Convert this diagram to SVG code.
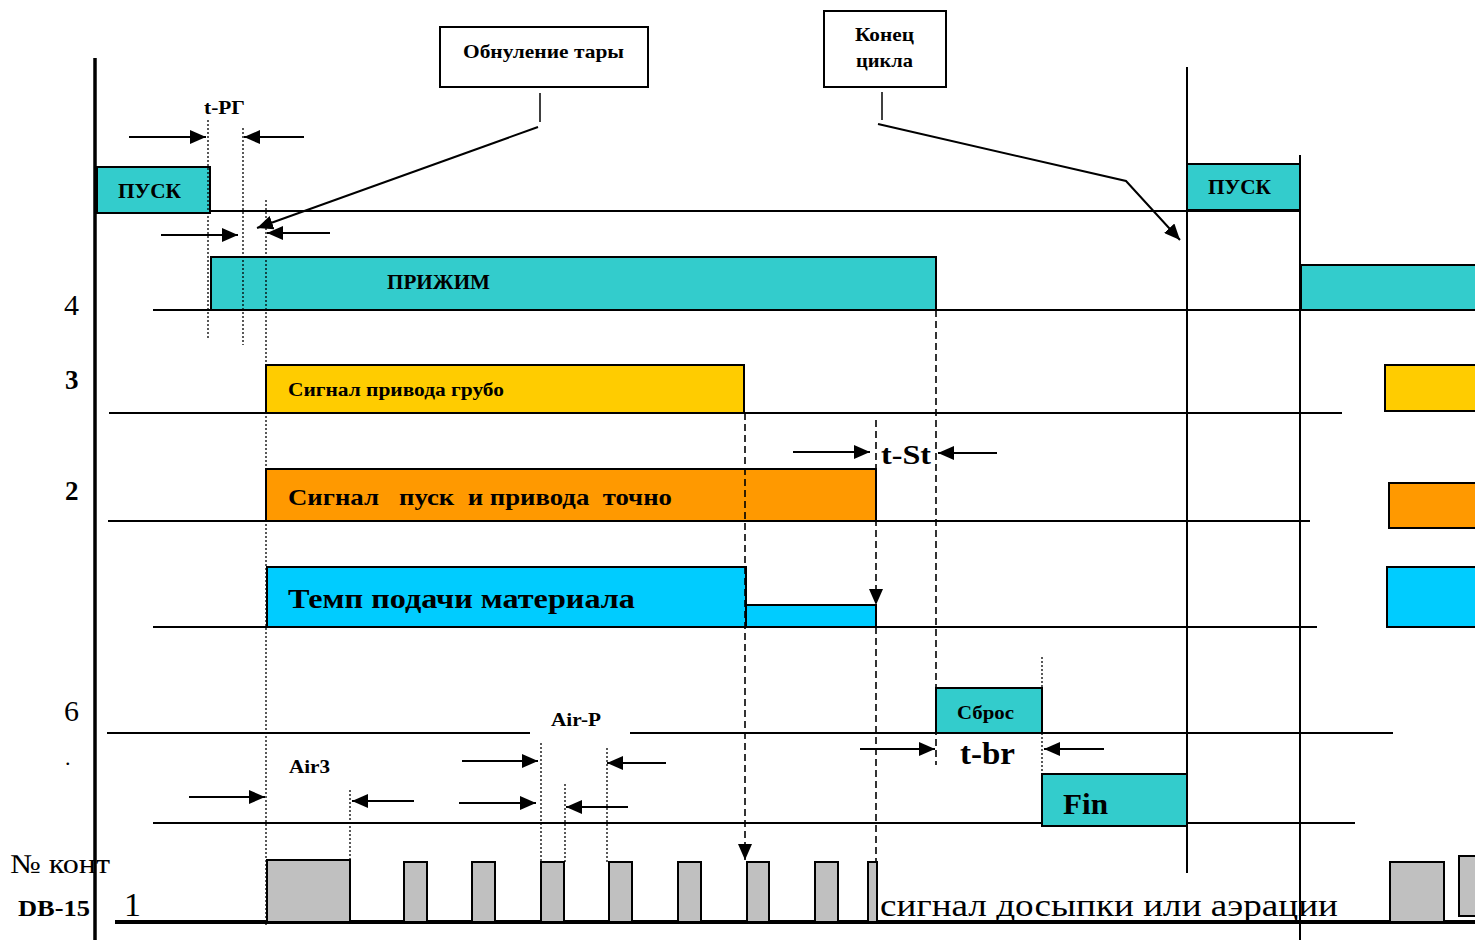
<svg xmlns="http://www.w3.org/2000/svg" width="1475" height="940" viewBox="0 0 1475 940">
<style>
text{font-family:"Liberation Serif","Times New Roman",serif;fill:#000}
.b{font-weight:bold}
.ln{stroke:#000;stroke-width:2;fill:none}
.thin{stroke:#000;stroke-width:1.5;fill:none}
.dot{stroke:#000;stroke-width:1.3;stroke-dasharray:2,2;fill:none}
.dash{stroke:#000;stroke-width:1.6;stroke-dasharray:7,4;fill:none}
.box{stroke:#000;stroke-width:2}
.teal{fill:#33CCCC}
.yel{fill:#FFCC00}
.org{fill:#FF9900}
.blu{fill:#00CCFF}
.gry{fill:#C0C0C0}
.wht{fill:#fff}
.arr{stroke:#000;stroke-width:2;fill:none;marker-end:url(#ah)}
</style>
<defs>
<marker id="ah" markerUnits="userSpaceOnUse" markerWidth="18" markerHeight="14" refX="16" refY="7" orient="auto">
<path d="M0,0 L16,7 L0,14 Z" fill="#000"/>
</marker>
</defs>
<rect width="1475" height="940" fill="#fff"/>

<g id="axes">
<line x1="95" y1="58" x2="95" y2="940" stroke="#000" stroke-width="3.5"/>
<line x1="115" y1="922" x2="1475" y2="922" stroke="#000" stroke-width="4"/>
<line class="ln" x1="210" y1="211" x2="1300" y2="211"/>
<line class="ln" x1="153" y1="310" x2="1475" y2="310"/>
<line class="ln" x1="109" y1="413" x2="1342" y2="413"/>
<line class="ln" x1="108" y1="521" x2="1310" y2="521"/>
<line class="ln" x1="153" y1="627" x2="1317" y2="627"/>
<line class="ln" x1="107" y1="733" x2="530" y2="733"/>
<line class="ln" x1="630" y1="733" x2="1393" y2="733"/>
<line class="ln" x1="153" y1="823" x2="1355" y2="823"/>
<line class="ln" x1="1187" y1="67" x2="1187" y2="873"/>
<line class="ln" x1="1300" y1="155" x2="1300" y2="940"/>
</g>

<g id="row-labels">
<text x="64" y="315" font-size="30">4</text>
<text x="65" y="389" font-size="27" class="b">3</text>
<text x="65" y="500" font-size="27" class="b">2</text>
<text x="64" y="721" font-size="30">6</text>
<text x="65" y="765" font-size="22">.</text>
<text x="10" y="873" font-size="27" textLength="100" lengthAdjust="spacingAndGlyphs">№ конт</text>
<text x="18" y="916" font-size="23" class="b" textLength="72" lengthAdjust="spacingAndGlyphs">DB-15</text>
<text x="124" y="916" font-size="34">1</text>
<text x="880" y="916" font-size="32" textLength="458" lengthAdjust="spacingAndGlyphs">сигнал досыпки или аэрации</text>
</g>

<g id="pusk1">
<rect class="box teal" x="97" y="167" width="113" height="46"/>
<text x="118" y="198" font-size="20" class="b" textLength="63" lengthAdjust="spacingAndGlyphs">ПУСК</text>
</g>
<g id="pusk2">
<rect class="box teal" x="1187" y="164" width="113" height="46"/>
<text x="1208" y="194" font-size="20" class="b" textLength="63" lengthAdjust="spacingAndGlyphs">ПУСК</text>
</g>
<g id="prizhim">
<rect class="box teal" x="211" y="257" width="725" height="53"/>
<text x="387" y="289" font-size="20" class="b" textLength="103" lengthAdjust="spacingAndGlyphs">ПРИЖИМ</text>
</g>
<g id="prizhim2">
<rect class="box teal" x="1301" y="265" width="180" height="45"/>
</g>
<g id="grubo">
<rect class="box yel" x="266" y="365" width="478" height="48"/>
<text x="288" y="396" font-size="18" class="b" textLength="216" lengthAdjust="spacingAndGlyphs">Сигнал привода грубо</text>
</g>
<g id="grubo2">
<rect class="box yel" x="1385" y="365" width="96" height="46"/>
</g>
<g id="tochno">
<rect class="box org" x="266" y="469" width="610" height="52"/>
<text x="288" y="505" font-size="23" class="b" xml:space="preserve" textLength="384" lengthAdjust="spacingAndGlyphs">Сигнал   пуск  и привода  точно</text>
</g>
<g id="tochno2">
<rect class="box org" x="1389" y="483" width="92" height="45"/>
</g>
<g id="temp">
<path class="box blu" d="M267,567 H746 V605 H876 V627 H267 Z"/>
<line class="ln" x1="746" y1="605" x2="746" y2="627"/>
<text x="288" y="608" font-size="28" class="b" textLength="347" lengthAdjust="spacingAndGlyphs">Темп подачи материала</text>
</g>
<g id="temp2">
<rect class="box blu" x="1387" y="567" width="94" height="60"/>
</g>
<g id="sbros">
<rect class="box teal" x="936" y="688" width="106" height="45"/>
<text x="957" y="719" font-size="19" class="b" textLength="57" lengthAdjust="spacingAndGlyphs">Сброс</text>
</g>
<g id="fin">
<rect class="box teal" x="1042" y="774" width="145" height="52"/>
<text x="1063" y="814" font-size="29" class="b" textLength="45" lengthAdjust="spacingAndGlyphs">Fin</text>
</g>

<g id="pulses">
<rect class="box gry" x="267" y="860" width="83" height="62"/>
<rect class="box gry" x="404" y="862" width="23" height="60"/>
<rect class="box gry" x="472" y="862" width="23" height="60"/>
<rect class="box gry" x="541" y="862" width="23" height="60"/>
<rect class="box gry" x="609" y="862" width="23" height="60"/>
<rect class="box gry" x="678" y="862" width="23" height="60"/>
<rect class="box gry" x="747" y="862" width="22" height="60"/>
<rect class="box gry" x="815" y="862" width="23" height="60"/>
<rect class="box gry" x="868" y="862" width="9" height="60"/>
<rect class="box gry" x="1390" y="862" width="54" height="60"/>
<rect class="box gry" x="1459" y="856" width="22" height="60"/>
</g>

<g id="callout-tara">
<rect class="box wht" x="440" y="27" width="208" height="60"/>
<text x="463" y="58" font-size="19" class="b" textLength="161" lengthAdjust="spacingAndGlyphs">Обнуление тары</text>
</g>
<g id="callout-konec">
<rect class="box wht" x="824" y="11" width="122" height="76"/>
<text x="855" y="41" font-size="19" class="b" textLength="59" lengthAdjust="spacingAndGlyphs">Конец</text>
<text x="856" y="67" font-size="19" class="b" textLength="57" lengthAdjust="spacingAndGlyphs">цикла</text>
</g>

<g id="timing-labels">
<text x="204" y="114" font-size="19" class="b" textLength="41" lengthAdjust="spacingAndGlyphs">t-PГ</text>
<text x="881" y="464" font-size="28" class="b" textLength="50" lengthAdjust="spacingAndGlyphs">t-St</text>
<text x="960" y="764" font-size="31" class="b" textLength="55" lengthAdjust="spacingAndGlyphs">t-br</text>
<text x="289" y="773" font-size="18" class="b" textLength="41" lengthAdjust="spacingAndGlyphs">Air3</text>
<text x="551" y="726" font-size="18" class="b" textLength="50" lengthAdjust="spacingAndGlyphs">Air-P</text>
</g>

<g id="connectors">
<line class="dot" x1="208" y1="120" x2="208" y2="338"/>
<line class="dot" x1="243" y1="128" x2="243" y2="345"/>
<line class="dot" x1="266" y1="200" x2="266" y2="925"/>
<line class="dot" x1="350" y1="790" x2="350" y2="925"/>
<line class="dot" x1="541" y1="743" x2="541" y2="862"/>
<line class="dot" x1="565" y1="784" x2="565" y2="862"/>
<line class="dot" x1="607" y1="748" x2="607" y2="862"/>
<line class="dot" x1="1042" y1="657" x2="1042" y2="775"/>
<line class="dash" x1="745" y1="413" x2="745" y2="860" marker-end="url(#ah)"/>
<line class="dash" x1="876" y1="420" x2="876" y2="605" marker-end="url(#ah)"/>
<line class="dash" x1="876" y1="605" x2="876" y2="862"/>
<line class="dash" x1="936" y1="310" x2="936" y2="765"/>
<line class="arr" x1="129" y1="137" x2="206" y2="137"/>
<line class="arr" x1="304" y1="137" x2="244" y2="137"/>
<line class="arr" x1="161" y1="235" x2="238" y2="235"/>
<line class="arr" x1="330" y1="233" x2="267" y2="233"/>
<line class="thin" x1="540" y1="93" x2="540" y2="122" stroke-width="2.5"/>
<line class="arr" x1="538" y1="127" x2="257" y2="228"/>
<line class="thin" x1="882" y1="92" x2="882" y2="120" stroke-width="2.5"/>
<polyline class="arr" points="878,124 1126,181 1180,240"/>
<line class="arr" x1="793" y1="452" x2="870" y2="452"/>
<line class="arr" x1="997" y1="453" x2="938" y2="453"/>
<line class="arr" x1="860" y1="749" x2="935" y2="749"/>
<line class="arr" x1="1104" y1="749" x2="1044" y2="749"/>
<line class="arr" x1="462" y1="761" x2="538" y2="761"/>
<line class="arr" x1="666" y1="763" x2="607" y2="763"/>
<line class="arr" x1="459" y1="803" x2="536" y2="803"/>
<line class="arr" x1="628" y1="807" x2="566" y2="807"/>
<line class="arr" x1="189" y1="797" x2="265" y2="797"/>
<line class="arr" x1="414" y1="801" x2="352" y2="801"/>
</g>
</svg>
